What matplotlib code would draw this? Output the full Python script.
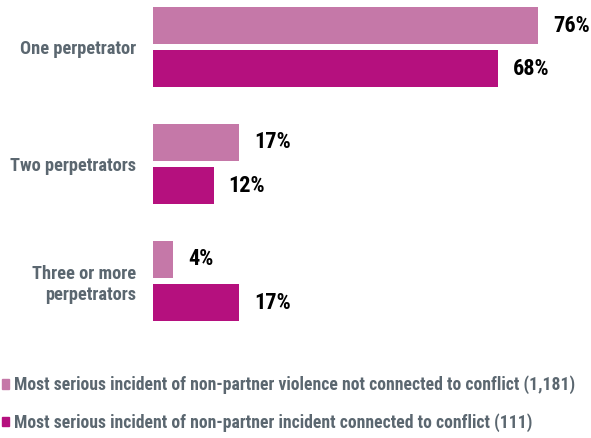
import matplotlib.pyplot as plt
from matplotlib.patches import Patch

categories = ["One perpetrator", "Two perpetrators", "Three or more\nperpetrators"]
not_conflict = [76, 17, 4]
conflict = [68, 12, 17]
series_names = ["Most serious incident of non-partner violence not connected to conflict (1,181)",
                "Most serious incident of non-partner incident connected to conflict (111)"]

light = "#C578A8"
dark = "#B5107E"
grey = "#5B6770"

plt.rcParams["font.family"] = ["Roboto Condensed", "DejaVu Sans"]

fig = plt.figure(figsize=(5.91, 4.38), dpi=100)
ax = fig.add_axes([153 / 591, (438 - 330) / 438, (591 - 153) / 591, 330 / 438])

pos = list(range(len(categories)))
h = 0.316
off = 0.184
ax.barh([p - off for p in pos], not_conflict, height=h, color=light)
ax.barh([p + off for p in pos], conflict, height=h, color=dark)

for p, v in zip(pos, not_conflict):
    ax.text(v + 2.9, p - off, f"{v}%", va="center", ha="left", fontsize=16, fontweight="bold")
for p, v in zip(pos, conflict):
    ax.text(v + 2.9, p + off, f"{v}%", va="center", ha="left", fontsize=16, fontweight="bold")

ax.set_xlim(0, (591 - 153) / 5.07)
ax.set_ylim(2.419, -0.402)
ax.set_yticks(pos)
ax.set_yticklabels(categories, fontsize=13.2, fontweight="bold", color=grey, linespacing=1.25)
ax.tick_params(axis="y", length=0, pad=12)
ax.set_xticks([])
for s in ax.spines.values():
    s.set_visible(False)

handles = [Patch(color=light), Patch(color=dark)]
leg = fig.legend(handles, series_names, loc="center left", bbox_to_anchor=(-0.024, (438 - 404) / 438),
                 frameon=False, handlelength=0.42, handleheight=0.42, handletextpad=0.28,
                 labelspacing=1.08, prop={"size": 12.7, "weight": "bold"})
for t in leg.get_texts():
    t.set_color(grey)

fig.savefig("out.png", dpi=100)
